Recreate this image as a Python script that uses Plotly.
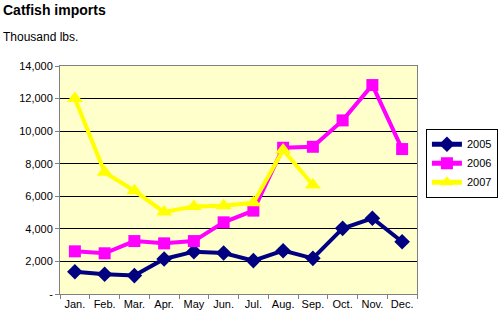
import plotly.graph_objects as go

months = ["Jan.", "Feb.", "Mar.", "Apr.", "May", "Jun.", "Jul.", "Aug.", "Sep.", "Oct.", "Nov.", "Dec."]
imports_2005 = [1370, 1210, 1130, 2150, 2600, 2520, 2050, 2660, 2190, 4030, 4650, 3210]
imports_2006 = [2620, 2500, 3250, 3110, 3250, 4400, 5120, 8980, 9040, 10660, 12830, 8900]
imports_2007 = [12000, 7470, 6340, 5030, 5380, 5420, 5600, 8840, 6690]
y_ticks = [0, 2000, 4000, 6000, 8000, 10000, 12000, 14000]
y_tick_labels = ["-", "2,000", "4,000", "6,000", "8,000", "10,000", "12,000", "14,000"]

FONT = "Liberation Sans, Arial, sans-serif"

fig = go.Figure()
fig.add_trace(go.Scatter(x=months, y=imports_2005, name="2005", mode="lines+markers",
                         line=dict(color="#000080", width=4),
                         marker=dict(symbol="diamond", size=12, color="#000080")))
fig.add_trace(go.Scatter(x=months, y=imports_2006, name="2006", mode="lines+markers",
                         line=dict(color="#FF00FF", width=4),
                         marker=dict(symbol="square", size=12, color="#FF00FF")))
fig.add_trace(go.Scatter(x=months[:len(imports_2007)], y=imports_2007, name="2007", mode="lines+markers",
                         line=dict(color="#FFFF00", width=4),
                         marker=dict(symbol="triangle-up", size=14, color="#FFFF00")))

fig.update_layout(
    width=500, height=328,
    margin=dict(l=60, r=83, t=66, b=34, autoexpand=False),
    paper_bgcolor="white",
    plot_bgcolor="#FFFFCC",
    font=dict(family=FONT, size=11, color="black"),
    title=dict(text="<b>Catfish imports</b>", x=0.006, xref="container", xanchor="left",
               y=0.985, yref="container", yanchor="top",
               font=dict(family=FONT, size=14, color="black")),
    annotations=[dict(text="Thousand lbs.", xref="paper", yref="paper",
                      x=(1 - 60) / 357, y=(294 - 37) / 228, xanchor="left", yanchor="middle",
                      showarrow=False, font=dict(family=FONT, size=12, color="black"))],
    legend=dict(x=1.025, y=0.725, xanchor="left", yanchor="top",
                bgcolor="white", bordercolor="black", borderwidth=1,
                font=dict(family=FONT, size=11, color="black"),
                itemwidth=30, itemsizing="constant", tracegroupgap=0),
    showlegend=True,
)
fig.update_xaxes(type="category", range=[-0.5, 11.5], tickson="boundaries",
                 ticks="outside", ticklen=4, tickcolor="#808080", tickangle=0,
                 showline=True, linecolor="#808080", linewidth=1, mirror=True,
                 showgrid=False, tickfont=dict(size=11))
fig.update_yaxes(range=[0, 14000], tickvals=y_ticks, ticktext=y_tick_labels,
                 ticks="outside", ticklen=4, tickcolor="#808080",
                 showline=True, linecolor="#808080", linewidth=1, mirror=True,
                 showgrid=True, gridcolor="black", gridwidth=1, zeroline=False,
                 tickfont=dict(size=11))

fig.write_html("out.html")
